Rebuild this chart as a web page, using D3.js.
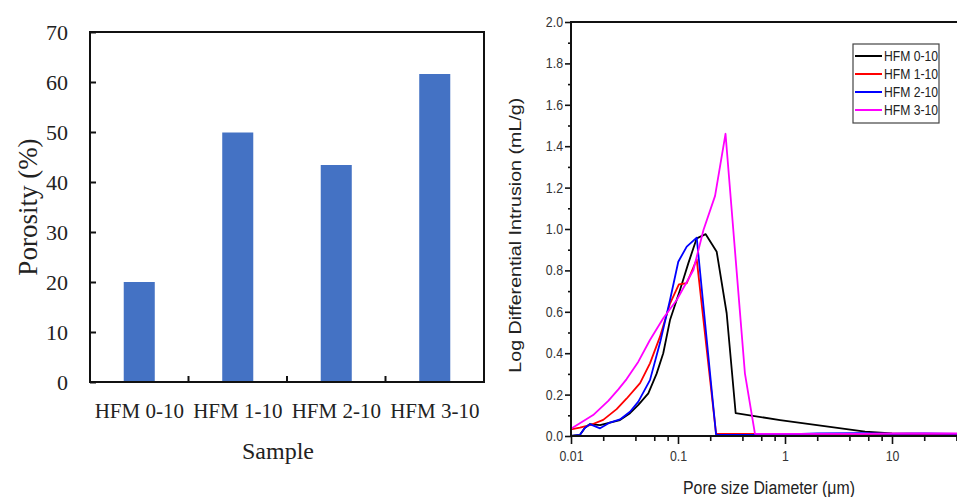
<!DOCTYPE html>
<html>
<head>
<meta charset="utf-8">
<script src="https://cdn.jsdelivr.net/npm/d3@7"></script>
<style>
  body { margin: 0; background: #fff; }
  svg { display: block; }
</style>
</head>
<body>
<div id="chart"></div>
<script>
// ---- left panel: porosity of each sample ----
const samples = ["HFM 0-10", "HFM 1-10", "HFM 2-10", "HFM 3-10"];
const porosity = [20.0, 49.9, 43.4, 61.6];
const porosityTicks = [0, 10, 20, 30, 40, 50, 60, 70];

// ---- right panel: log differential intrusion vs pore diameter ----
const seriesNames = ["HFM 0-10", "HFM 1-10", "HFM 2-10", "HFM 3-10"];
const seriesColors = ["#000000", "#ff0000", "#0000ff", "#ff00ff"];

const hfm0Diam = [0.01, 0.0121, 0.0135, 0.015, 0.0187, 0.0231, 0.0287, 0.0356, 0.0426, 0.0528, 0.063, 0.0728, 0.0842, 0.1044, 0.1248, 0.1496, 0.1815, 0.23, 0.285, 0.346, 0.9, 5.6, 10, 20, 60];
const hfm0Intr = [0.0, 0.005, 0.04, 0.057, 0.053, 0.065, 0.077, 0.11, 0.15, 0.206, 0.30, 0.40, 0.56, 0.705, 0.834, 0.955, 0.975, 0.89, 0.593, 0.11, 0.077, 0.021, 0.012, 0.01, 0.01];

const hfm1Diam = [0.01, 0.0121, 0.015, 0.02, 0.0267, 0.033, 0.0442, 0.0547, 0.0679, 0.0842, 0.1019, 0.1207, 0.1496, 0.227, 0.5, 1, 5, 10, 20, 60];
const hfm1Intr = [0.032, 0.04, 0.052, 0.078, 0.13, 0.18, 0.255, 0.351, 0.48, 0.64, 0.733, 0.738, 0.853, 0.01, 0.01, 0.01, 0.008, 0.006, 0.008, 0.012];

const hfm2Diam = [0.01, 0.0121, 0.0135, 0.015, 0.0187, 0.0231, 0.0287, 0.0356, 0.0426, 0.0547, 0.0679, 0.0842, 0.1006, 0.1207, 0.1496, 0.227, 0.5, 1, 2, 5, 10, 20, 60];
const hfm2Intr = [0.0, 0.005, 0.04, 0.057, 0.037, 0.065, 0.08, 0.117, 0.166, 0.27, 0.45, 0.657, 0.842, 0.915, 0.958, 0.005, 0.005, 0.008, 0.012, 0.014, 0.01, 0.012, 0.01];

const hfm3Diam = [0.01, 0.0161, 0.0223, 0.0277, 0.0331, 0.0426, 0.0547, 0.0728, 0.0973, 0.1393, 0.173, 0.222, 0.278, 0.422, 0.524, 1, 5, 10, 60];
const hfm3Intr = [0.035, 0.101, 0.17, 0.225, 0.275, 0.359, 0.464, 0.569, 0.657, 0.802, 0.995, 1.16, 1.46, 0.303, 0.01, 0.01, 0.01, 0.012, 0.012];

const intrusionTicks = [0, 0.2, 0.4, 0.6, 0.8, 1.0, 1.2, 1.4, 1.6, 1.8, 2.0];
const intrusionMinor = [0.1, 0.3, 0.5, 0.7, 0.9, 1.1, 1.3, 1.5, 1.7, 1.9];
const diamTicks = [0.01, 0.1, 1, 10];
const diamMinor = [0.02, 0.04, 0.06, 0.08, 0.2, 0.4, 0.6, 0.8, 2, 4, 6, 8, 20, 40, 60, 80];

const seriesDiam = [hfm0Diam, hfm1Diam, hfm2Diam, hfm3Diam];
const seriesIntr = [hfm0Intr, hfm1Intr, hfm2Intr, hfm3Intr];

const svg = d3.select('#chart').append('svg')
    .attr('width', 957)
    .attr('height', 497);

// squeeze horizontal text a bit, the source image is slightly narrowed
function squeeze(sel, k) {
    sel.each(function() {
        const w = this.getComputedTextLength();
        d3.select(this).attr('textLength', w * k).attr('lengthAdjust', 'spacingAndGlyphs');
    });
}

// ================= bar chart =================
{
    const serif = '"Liberation Serif", "Times New Roman", serif';
    const m = { left: 90, top: 32 };
    const w = 394, h = 350;
    const g = svg.append('g').attr('transform', `translate(${m.left},${m.top})`);

    const xCat = d3.scaleBand().domain(samples).range([0, w]).padding(0);
    const xBar = d3.scaleBand().domain(samples).range([0, w])
        .paddingInner(0.685).paddingOuter(0.3425);
    const y = d3.scaleLinear().domain([0, 70]).range([h, 0]);

    g.selectAll('.bar')
        .data(samples)
        .join('rect')
        .attr('class', 'bar')
        .attr('x', d => xBar(d))
        .attr('width', xBar.bandwidth())
        .attr('y', (d, i) => y(porosity[i]))
        .attr('height', (d, i) => h - y(porosity[i]))
        .attr('fill', '#4472c4');

    // frame
    g.append('rect')
        .attr('width', w).attr('height', h)
        .attr('fill', 'none').attr('stroke', '#111').attr('stroke-width', 2);

    // y axis, ticks pointing inward
    const yAxisG = g.append('g')
        .call(d3.axisLeft(y).tickValues(porosityTicks).tickSize(-6).tickPadding(22));
    yAxisG.select('.domain').remove();
    yAxisG.selectAll('line').attr('stroke', '#111').attr('stroke-width', 2);
    yAxisG.selectAll('text')
        .attr('font-family', serif).attr('font-size', 22).attr('fill', '#222');

    // category boundary ticks
    g.selectAll('.cat-tick')
        .data(samples.slice(1))
        .join('line')
        .attr('class', 'cat-tick')
        .attr('x1', d => xCat(d)).attr('x2', d => xCat(d))
        .attr('y1', h).attr('y2', h - 6)
        .attr('stroke', '#111').attr('stroke-width', 2);

    const xAxisG = g.append('g')
        .attr('transform', `translate(0,${h})`)
        .call(d3.axisBottom(xCat).tickSize(0).tickPadding(21));
    xAxisG.select('.domain').remove();
    xAxisG.selectAll('text')
        .attr('font-family', serif).attr('font-size', 21).attr('fill', '#222');

    g.append('text')
        .attr('x', w / 2 - 9).attr('y', h + 77)
        .attr('text-anchor', 'middle')
        .attr('font-family', serif).attr('font-size', 24).attr('fill', '#222')
        .text('Sample');

    g.append('text')
        .attr('transform', `translate(${28 - m.left + 9},${h / 2}) rotate(-90)`)
        .attr('text-anchor', 'middle')
        .attr('font-family', serif).attr('font-size', 27).attr('fill', '#222')
        .text('Porosity (%)');
}

// ================= line chart =================
{
    const sans = '"Liberation Sans", Arial, sans-serif';
    const m = { left: 571, top: 22 };
    const w = 428, h = 414;
    const g = svg.append('g').attr('transform', `translate(${m.left},${m.top})`);

    const x = d3.scaleLog().domain([0.01, 100]).range([0, w]);
    const y = d3.scaleLinear().domain([0, 2]).range([h, 0]);

    const line = d3.line()
        .x(d => x(d[0]))
        .y(d => y(d[1]));

    // draw order: black, red, blue, magenta
    seriesNames.forEach((name, i) => {
        g.append('path')
            .datum(seriesDiam[i].map((v, j) => [v, seriesIntr[i][j]]))
            .attr('fill', 'none')
            .attr('stroke', seriesColors[i])
            .attr('stroke-width', 1.8)
            .attr('stroke-linejoin', 'round')
            .attr('d', line);
    });

    // axes
    const yAxisG = g.append('g')
        .call(d3.axisLeft(y).tickValues(intrusionTicks).tickSize(6).tickPadding(2)
            .tickFormat(d3.format('.1f')));
    const yMinorG = g.append('g')
        .call(d3.axisLeft(y).tickValues(intrusionMinor).tickSize(3).tickFormat(''));
    const xAxisG = g.append('g')
        .attr('transform', `translate(0,${h})`)
        .call(d3.axisBottom(x).tickValues(diamTicks).tickSize(8).tickPadding(7)
            .tickFormat(d3.format('~g')));
    const xMinorG = g.append('g')
        .attr('transform', `translate(0,${h})`)
        .call(d3.axisBottom(x).tickValues(diamMinor).tickSize(5).tickFormat(''));

    [yAxisG, yMinorG, xAxisG, xMinorG].forEach(a => {
        a.select('.domain').remove();
        a.selectAll('line').attr('stroke', '#111').attr('stroke-width', 1.6);
    });
    [yAxisG, xAxisG].forEach(a => {
        a.selectAll('text')
            .attr('font-family', sans).attr('font-size', 14).attr('fill', '#333')
            .call(squeeze, 0.88);
    });

    // axis lines: left, bottom, top
    g.append('path')
        .attr('d', `M${w},0H0V${h}H${w}`)
        .attr('fill', 'none').attr('stroke', '#111').attr('stroke-width', 2);

    g.append('text')
        .attr('x', 198).attr('y', h + 58)
        .attr('text-anchor', 'middle')
        .attr('font-family', sans).attr('font-size', 18).attr('fill', '#222')
        .text('Pore size Diameter (\u03bcm)')
        .call(squeeze, 0.88);

    g.append('text')
        .attr('transform', `translate(-50,${y(0.97)}) rotate(-90)`)
        .attr('text-anchor', 'middle')
        .attr('font-family', sans).attr('font-size', 17).attr('fill', '#222')
        .text('Log Differential Intrusion (mL/g)')
        .attr('textLength', 275).attr('lengthAdjust', 'spacingAndGlyphs');

    // legend
    const lg = svg.append('g').attr('transform', 'translate(853,44)');
    lg.append('rect')
        .attr('width', 86).attr('height', 79)
        .attr('fill', '#fff').attr('stroke', '#444').attr('stroke-width', 1.2);
    const rows = lg.selectAll('.row')
        .data(seriesNames)
        .join('g')
        .attr('class', 'row')
        .attr('transform', (d, i) => `translate(0,${12 + i * 18})`);
    rows.append('line')
        .attr('x1', 2).attr('x2', 29)
        .attr('stroke', (d, i) => seriesColors[i]).attr('stroke-width', 2);
    rows.append('text')
        .attr('x', 31).attr('dy', '0.36em')
        .attr('font-family', sans).attr('font-size', 14).attr('fill', '#222')
        .text(d => d)
        .call(squeeze, 0.87);
}
</script>
</body>
</html>
